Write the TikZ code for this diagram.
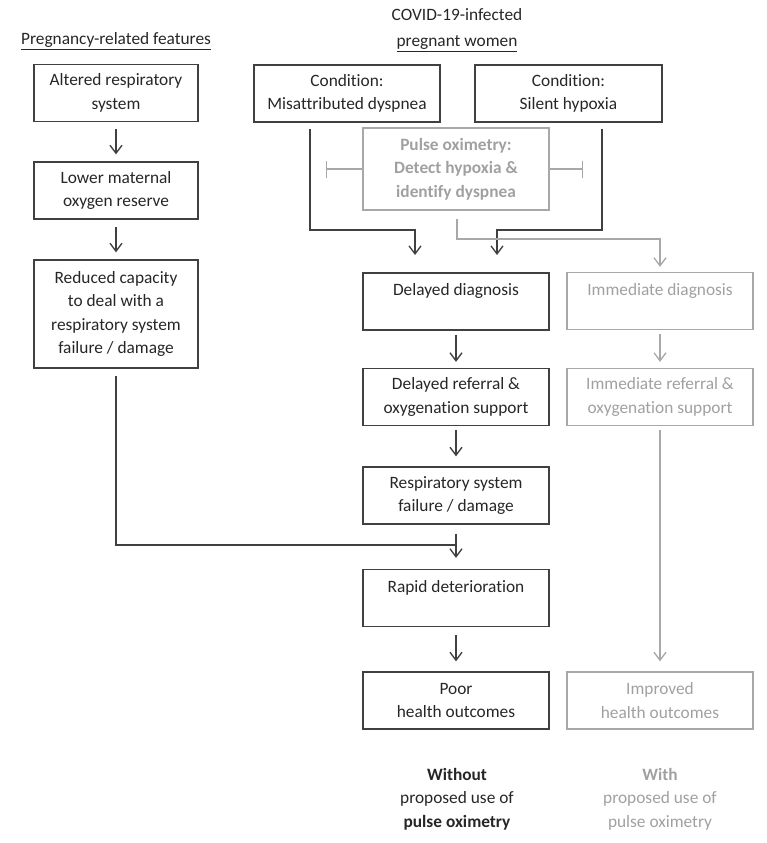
\documentclass[tikz,border=0pt]{standalone}
\usepackage{fontspec}
\setmainfont[Ligatures=NoCommon]{Carlito}
\usetikzlibrary{arrows.meta}
\newlength\unitpx
\setlength\unitpx{0.75pt}
\definecolor{ink}{HTML}{404040}
\definecolor{inktext}{HTML}{262626}
\definecolor{pale}{HTML}{A8A8A8}
\definecolor{paletext}{HTML}{A0A0A0}
\tikzset{
	box/.style={draw=ink, text=inktext, line width=1pt, align=center, inner sep=2pt,
		minimum width=186\unitpx, minimum height=57\unitpx},
	leftbox/.style={box, minimum width=164\unitpx},
	graybox/.style={box, draw=pale, text=paletext},
	wire/.style={draw=ink, line width=1pt},
	graywire/.style={draw=pale, line width=1pt},
	flow/.style={wire, -{Straight Barb[length=6pt,width=9pt]}},
	grayflow/.style={graywire, -{Straight Barb[length=6pt,width=9pt]}},
	blocker/.style={graywire, -{Bar[width=12.75pt]}},
	step gap/.style={shorten <=7\unitpx, shorten >=7\unitpx}
}
\begin{document}
\begin{tikzpicture}[x=0.75pt, y=-0.75pt, font=\fontsize{13}{17.5}\selectfont]
		\useasboundingbox (0,0) rectangle (767,843);
		
		\node[text=inktext] (feat) at (116,41) {\underline{Pregnancy-related features}};
		\node[text=inktext, align=center] (covid) at (457,30) {COVID-19-infected\\[2pt]\underline{pregnant women}};
		
		\node[leftbox] (alt) at (116,93) {Altered respiratory\\system};
		\node[leftbox] (lower) at (116,190.5) {Lower maternal\\oxygen reserve};
		\node[leftbox, minimum height=108\unitpx] (reduced) at (116,314) {Reduced capacity\\to deal with a\\respiratory system\\failure / damage};
		
		\node[box] (cond1) at (347,93.5) {Condition:\\Misattributed dyspnea};
		\node[box, minimum width=187\unitpx] (cond2) at (568.5,93.5) {Condition:\\Silent hypoxia};
		\node[graybox, minimum height=82\unitpx, font=\fontsize{13}{17.5}\selectfont\bfseries] (pulse) at (456,169) {Pulse oximetry:\\Detect hypoxia \&\\identify dyspnea};
		
		\node[box] (delaydiag) at (456,301.5) {Delayed diagnosis\\~};
		\node[box] (delayref) at (456,397) {Delayed referral \&\\oxygenation support};
		\node[box] (resp) at (456,495.5) {Respiratory system\\failure / damage};
		\node[box] (rapid) at (456,598) {Rapid deterioration\\~};
		\node[box] (poor) at (456,700.5) {Poor\\health outcomes};
		
		\node[graybox] (immdiag) at (660,301) {Immediate diagnosis\\~};
		\node[graybox] (immref) at (660,397) {Immediate referral \&\\oxygenation support};
		\node[graybox] (improved) at (660,700.5) {Improved\\health outcomes};
		
		\node[text=inktext, align=center] (without) at (457,799) {\textbf{Without}\\proposed use of\\\textbf{pulse oximetry}};
		\node[text=paletext, align=center] (with) at (660,799) {\textbf{With}\\proposed use of\\pulse oximetry};
		
		\coordinate (k1) at (310,230);
		\coordinate (k2) at (602,230);
		\coordinate (k3) at (457,239);
		\coordinate (tipl) at (415,255);
		\coordinate (tipr) at (497,255);
		\coordinate (merge) at (456,545);
		\coordinate (barl) at (326,169);
		\coordinate (barr) at (583,169);
		
		\draw[flow, step gap] (alt) -- (lower);
		\draw[flow, step gap] (lower) -- (reduced);
		\draw[wire, shorten <=7\unitpx] (reduced.south) |- (merge);
		
		\draw[flow, shorten <=6\unitpx] (cond1.south -| k1) -- (k1) -| (tipl);
		\draw[flow, shorten <=6\unitpx] (cond2.south -| k2) -- (k2) -| (tipr);
		\draw[blocker] (pulse.west) -- (barl);
		\draw[blocker] (pulse.east) -- (barr);
		\draw[grayflow, shorten <=8\unitpx, shorten >=5\unitpx] (pulse.south -| k3) -- (k3) -| (immdiag.north);
		
		\draw[flow, shorten <=4\unitpx, shorten >=6\unitpx] (delaydiag) -- (delayref);
		\draw[flow, shorten <=4\unitpx, shorten >=10\unitpx] (delayref) -- (resp);
		\draw[flow, shorten <=9\unitpx, shorten >=11\unitpx] (resp) -- (rapid);
		\draw[flow, shorten <=8\unitpx, shorten >=10\unitpx] (rapid) -- (poor);
		
		\draw[grayflow, shorten <=4\unitpx, shorten >=6\unitpx] (immdiag) -- (immref);
		\draw[grayflow, shorten <=4\unitpx, shorten >=10\unitpx] (immref) -- (improved);
\end{tikzpicture}
\end{document}
